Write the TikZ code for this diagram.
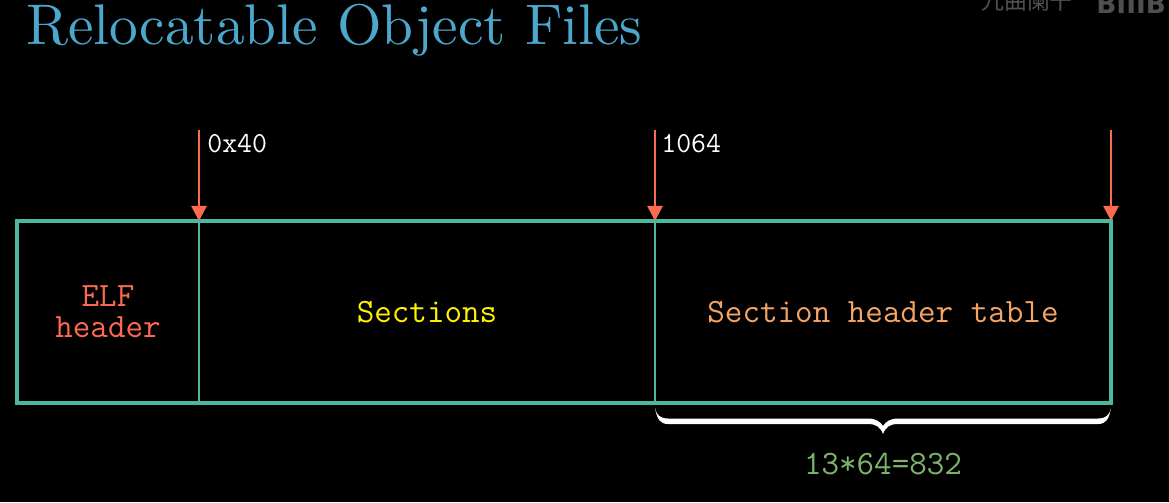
\documentclass[tikz,border=0pt]{standalone}
\usepackage{fontspec}
\usepackage{xcolor}
\usetikzlibrary{positioning,arrows.meta}
\newfontfamily\cjkmark{Noto Sans CJK SC}
\newfontfamily\logomark{DejaVu Sans}
\definecolor{boxteal}{HTML}{4DB8A0}
\definecolor{arrowred}{HTML}{FC6A50}
\definecolor{titleblue}{HTML}{4BA8CC}
\definecolor{tableorange}{HTML}{F5A465}
\definecolor{sizegreen}{HTML}{7DB56B}
\definecolor{markgray}{HTML}{505050}
\tikzset{
    cellbox/.style={draw=boxteal, line width=1.6pt, outer sep=0pt, inner sep=0pt, minimum height=3.64cm, font=\ttfamily\fontsize{19.4}{17.6}\selectfont},
    offsetarrow/.style={-{Triangle[length=3mm,width=3mm]}, arrowred, line width=1.5pt},
    offsettext/.style={white, anchor=west, inner sep=0pt, font=\ttfamily\fontsize{16.5}{19}\selectfont},
    marktext/.style={markgray, anchor=base west, inner sep=0pt}
}
\begin{document}
\begin{tikzpicture}
    \useasboundingbox[fill=black] (0,0) rectangle (23.38,10.04);
    \node[titleblue, anchor=base west, inner sep=0pt, scale=3.26, font=\fontsize{10}{12}\selectfont] (title) at (0.5,9.14) {Relocatable Object Files};
    % file layout
    \node[cellbox, minimum width=3.64cm, anchor=south west, align=center, text=arrowred] (elf) at (0.34,1.98) {ELF\\header};
    \node[cellbox, minimum width=9.12cm, right=0pt of elf, text=yellow] (sections) {Sections};
    \node[cellbox, minimum width=9.12cm, right=0pt of sections, text=tableorange] (table) {Section header table};
    \draw[boxteal, line width=2pt] (elf.north west) rectangle (table.south east);
    % offsets
    \coordinate[above=1.82cm of elf.north east] (startA);
    \coordinate[above=1.82cm of table.north west] (startB);
    \coordinate[above=1.82cm of table.north east] (startC);
    \draw[offsetarrow] (startA) -- (elf.north east);
    \draw[offsetarrow] (startB) -- (table.north west);
    \draw[offsetarrow] (startC) -- (table.north east);
    \node[offsettext] (addrA) at (4.14,7.16) {0x40};
    \node[offsettext] (addrB) at (13.22,7.16) {1064};
    % brace under the table
    \fill[white, shift={(table.south)}] (-4.56,-0.10) .. controls (-4.53,-0.24) and (-4.46,-0.31) .. (-4.30,-0.31)
        -- (-0.30,-0.31) .. controls (-0.14,-0.31) and (-0.05,-0.38) .. (0,-0.46)
        .. controls (0.05,-0.38) and (0.14,-0.31) .. (0.30,-0.31)
        -- (4.30,-0.31) .. controls (4.46,-0.31) and (4.53,-0.24) .. (4.56,-0.10)
        .. controls (4.52,-0.32) and (4.46,-0.42) .. (4.30,-0.42)
        -- (0.30,-0.42) .. controls (0.14,-0.42) and (0.05,-0.48) .. (0,-0.62)
        .. controls (-0.05,-0.48) and (-0.14,-0.42) .. (-0.30,-0.42)
        -- (-4.30,-0.42) .. controls (-4.46,-0.42) and (-4.52,-0.32) .. (-4.56,-0.10) -- cycle;
    \node[sizegreen, inner sep=0pt, font=\ttfamily\fontsize{19.4}{20}\selectfont, below=1.0cm of table.south] (size) {13*64=832};
    % watermark, cut by the page
    \node[marktext, font=\cjkmark\fontsize{13}{15}\selectfont] (markname) at (19.62,9.84) {九曲阑干};
    \node[marktext, font=\logomark\bfseries\fontsize{15}{20}\selectfont] (marklogo) at (21.92,9.76) {BIIIB};
\end{tikzpicture}
\end{document}
